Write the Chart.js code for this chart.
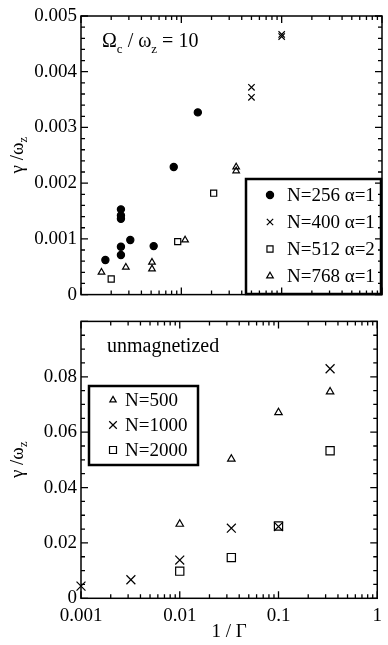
<!DOCTYPE html>
<html>
<head>
<meta charset="utf-8">
<script src="https://cdn.jsdelivr.net/npm/chart.js@4.4.1/dist/chart.umd.min.js"></script>
<style>
  html, body { margin: 0; padding: 0; background: #fff; }
  #wrap { position: relative; width: 388px; height: 645px; }
  #topCanvas { position: absolute; left: 0; top: 0; }
  #botCanvas { position: absolute; left: 0; top: 306px; }
</style>
</head>
<body>
<div id="wrap">
  <canvas id="topCanvas" width="388" height="310"></canvas>
  <canvas id="botCanvas" width="388" height="339"></canvas>
</div>
<script>
// top panel: Omega_c / omega_z = 10
const x256 = [0.00175, 0.0025, 0.0025, 0.0025, 0.0025, 0.0025, 0.0031, 0.0053, 0.0084, 0.0146];
const y256 = [0.00062, 0.00153, 0.00142, 0.00136, 0.00086, 0.00071, 0.00098, 0.00087, 0.00229, 0.00327];
const x400 = [0.05, 0.05, 0.1, 0.1];
const y400 = [0.00372, 0.00354, 0.00467, 0.00463];
const x512 = [0.002, 0.0092, 0.021];
const y512 = [0.00028, 0.00095, 0.00182];
const x768 = [0.0016, 0.0028, 0.0051, 0.0051, 0.0109, 0.0352, 0.0352];
const y768 = [0.0004, 0.00049, 0.00058, 0.00046, 0.00098, 0.00229, 0.00222];

// bottom panel: unmagnetized
const x500 = [0.01, 0.0333, 0.1, 0.333];
const y500 = [0.0268, 0.0503, 0.0671, 0.0746];
const x1000 = [0.001, 0.0032, 0.01, 0.0333, 0.1, 0.333];
const y1000 = [0.0044, 0.0067, 0.0138, 0.0253, 0.0259, 0.0829];
const x2000 = [0.01, 0.0333, 0.1, 0.333];
const y2000 = [0.0098, 0.0147, 0.0261, 0.0533];

const xTickLabels = ["0.001", "0.01", "0.1", "1"];
const topYTicks = ["0", "0.001", "0.002", "0.003", "0.004", "0.005"];
const botYTicks = ["0", "0.02", "0.04", "0.06", "0.08"];

const SERIF = "'Liberation Serif', 'DejaVu Serif', serif";
const FS = 19;

function pts(xs, ys) {
  return xs.map((x, i) => ({ x, y: ys[i] }));
}

function ds(label, xs, ys, style, radius, filled) {
  return {
    label,
    data: pts(xs, ys),
    pointStyle: style,
    pointRadius: radius,
    pointHoverRadius: radius,
    pointBorderWidth: 1.2,
    pointBorderColor: "#000",
    pointBackgroundColor: filled ? "#000" : "rgba(0,0,0,0)",
    borderColor: "#000",
    backgroundColor: filled ? "#000" : "rgba(0,0,0,0)",
    showLine: false,
    clip: false,
  };
}

// draw text made of [text, isSub] parts
function drawParts(ctx, parts, x, y, size) {
  let cx = x;
  parts.forEach(([t, sub]) => {
    const s = sub ? size * 0.65 : size;
    ctx.font = `${s}px ${SERIF}`;
    ctx.fillText(t, cx, sub ? y + size * 0.28 : y);
    cx += ctx.measureText(t).width;
  });
  return cx - x;
}
function partsWidth(ctx, parts, size) {
  let w = 0;
  parts.forEach(([t, sub]) => {
    ctx.font = `${sub ? size * 0.65 : size}px ${SERIF}`;
    w += ctx.measureText(t).width;
  });
  return w;
}

const framePlugin = {
  id: "frame",
  afterDraw(chart, args, opts) {
    const { ctx, chartArea: a } = chart;
    const xs = chart.scales.x, ys = chart.scales.y;
    ctx.save();
    ctx.strokeStyle = "#000";
    ctx.lineWidth = 1.5;
    ctx.strokeRect(a.left, a.top, a.right - a.left, a.bottom - a.top);
    ctx.lineWidth = 1.3;
    ctx.beginPath();
    // log x ticks, inward, top and bottom
    for (let e = -3; e <= 0; e++) {
      for (let m = 1; m <= 9; m++) {
        const v = m * Math.pow(10, e);
        if (v > 1.0001) break;
        const px = xs.getPixelForValue(v);
        const len = m === 1 ? 7 : 4;
        ctx.moveTo(px, a.bottom); ctx.lineTo(px, a.bottom - len);
        ctx.moveTo(px, a.top); ctx.lineTo(px, a.top + len);
      }
    }
    // y ticks, inward, left and right
    const n = Math.round((opts.max - opts.min) / opts.minor);
    for (let i = 0; i <= n; i++) {
      const v = opts.min + i * opts.minor;
      const py = ys.getPixelForValue(v);
      const len = i % opts.per === 0 ? 7 : 4;
      ctx.moveTo(a.left, py); ctx.lineTo(a.left + len, py);
      ctx.moveTo(a.right, py); ctx.lineTo(a.right - len, py);
    }
    ctx.stroke();

    // y axis title  gamma / omega_z
    const tParts = [["γ /ω", false], ["z", true]];
    const w = partsWidth(ctx, tParts, FS);
    ctx.translate(18, (a.top + a.bottom) / 2);
    ctx.rotate(-Math.PI / 2);
    ctx.fillStyle = "#000";
    ctx.textBaseline = "middle";
    drawParts(ctx, tParts, -w / 2, 0, FS);
    ctx.restore();

    // annotation
    ctx.save();
    ctx.fillStyle = "#000";
    ctx.textBaseline = "alphabetic";
    drawParts(ctx, opts.note, opts.noteX, opts.noteY, opts.noteSize);
    ctx.restore();

    // legend box
    const L = opts.legend;
    ctx.save();
    ctx.strokeStyle = "#000";
    ctx.lineWidth = 2.5;
    ctx.strokeRect(L.x, L.y, L.w, L.h);
    ctx.textBaseline = "middle";
    chart.data.datasets.forEach((d, i) => {
      const ry = L.y + L.row0 + i * L.gap;
      ctx.save();
      ctx.lineWidth = 1.2;
      ctx.fillStyle = d.pointBackgroundColor;
      ctx.strokeStyle = "#000";
      Chart.helpers.drawPoint(ctx, {
        pointStyle: d.pointStyle,
        radius: d.pointRadius * L.scale,
        borderWidth: 1.2,
        rotation: 0,
      }, L.x + L.symX, ry);
      ctx.restore();
      ctx.fillStyle = "#000";
      ctx.font = `${FS}px ${SERIF}`;
      ctx.fillText(d.label, L.x + L.textX, ry + 1);
    });
    ctx.restore();
  },
};

function yScale(min, max, step, labels, widthPx) {
  return {
    type: "linear",
    min, max,
    grid: { display: false, drawTicks: false },
    border: { display: false },
    ticks: {
      stepSize: step,
      padding: 4,
      color: "#000",
      font: { family: SERIF, size: FS },
      callback: (v) => {
        const i = Math.round((v - min) / step);
        return labels[i] !== undefined ? labels[i] : "";
      },
    },
    afterFit: (s) => { s.width = widthPx; },
  };
}

const topChart = new Chart(document.getElementById("topCanvas"), {
  type: "scatter",
  data: {
    datasets: [
      ds("N=256 α=1", x256, y256, "circle", 3.6, true),
      ds("N=400 α=1", x400, y400, "crossRot", 4.5, false),
      ds("N=512 α=2", x512, y512, "rect", 4.3, false),
      ds("N=768 α=1", x768, y768, "triangle", 3.8, false),
    ],
  },
  options: {
    responsive: false,
    animation: false,
    layout: { padding: { left: 0, right: 6, top: 16, bottom: 6 } },
    plugins: {
      legend: { display: false },
      tooltip: { enabled: false },
      frame: {
        min: 0, max: 0.005, minor: 0.0002, per: 5,
        note: [["Ω", false], ["c", true], [" / ω", false], ["z", true], [" = 10", false]],
        noteX: 102, noteY: 47, noteSize: 20,
        legend: { x: 246, y: 179, w: 135, h: 115, row0: 16, gap: 27, symX: 24, textX: 41, scale: 1 },
      },
    },
    scales: {
      x: { type: "logarithmic", min: 0.001, max: 1, display: false },
      y: yScale(0, 0.005, 0.001, topYTicks, 81),
    },
  },
  plugins: [framePlugin],
});

const botChart = new Chart(document.getElementById("botCanvas"), {
  type: "scatter",
  data: {
    datasets: [
      ds("N=500", x500, y500, "triangle", 4.3, false),
      ds("N=1000", x1000, y1000, "crossRot", 6.3, false),
      ds("N=2000", x2000, y2000, "rect", 5.8, false),
    ],
  },
  options: {
    responsive: false,
    animation: false,
    layout: { padding: { left: 0, right: 6, top: 2, bottom: 0 } },
    plugins: {
      legend: { display: false },
      tooltip: { enabled: false },
      frame: {
        min: 0, max: 0.1, minor: 0.005, per: 4,
        note: [["unmagnetized", false]],
        noteX: 107, noteY: 46, noteSize: 20,
        legend: { x: 89, y: 80, w: 109, h: 79, row0: 14, gap: 25, symX: 24, textX: 36, scale: 0.85 },
      },
    },
    scales: {
      x: {
        type: "logarithmic",
        min: 0.001, max: 1,
        grid: { display: false, drawTicks: false },
        border: { display: false },
        ticks: {
          autoSkip: false,
          maxRotation: 0,
          padding: 6,
          color: "#000",
          font: { family: SERIF, size: FS },
          callback: (v) => {
            const e = Math.round(Math.log10(v));
            if (Math.abs(v - Math.pow(10, e)) > 1e-9) return "";
            return xTickLabels[e + 3];
          },
        },
        title: {
          display: true,
          text: "1 / Γ",
          color: "#000",
          font: { family: SERIF, size: FS },
          padding: { top: 0, bottom: 2 },
        },
        afterFit: (s) => { s.height = 46.7; },
      },
      y: yScale(0, 0.1, 0.02, botYTicks, 81),
    },
  },
  plugins: [framePlugin],
});
</script>
</body>
</html>
